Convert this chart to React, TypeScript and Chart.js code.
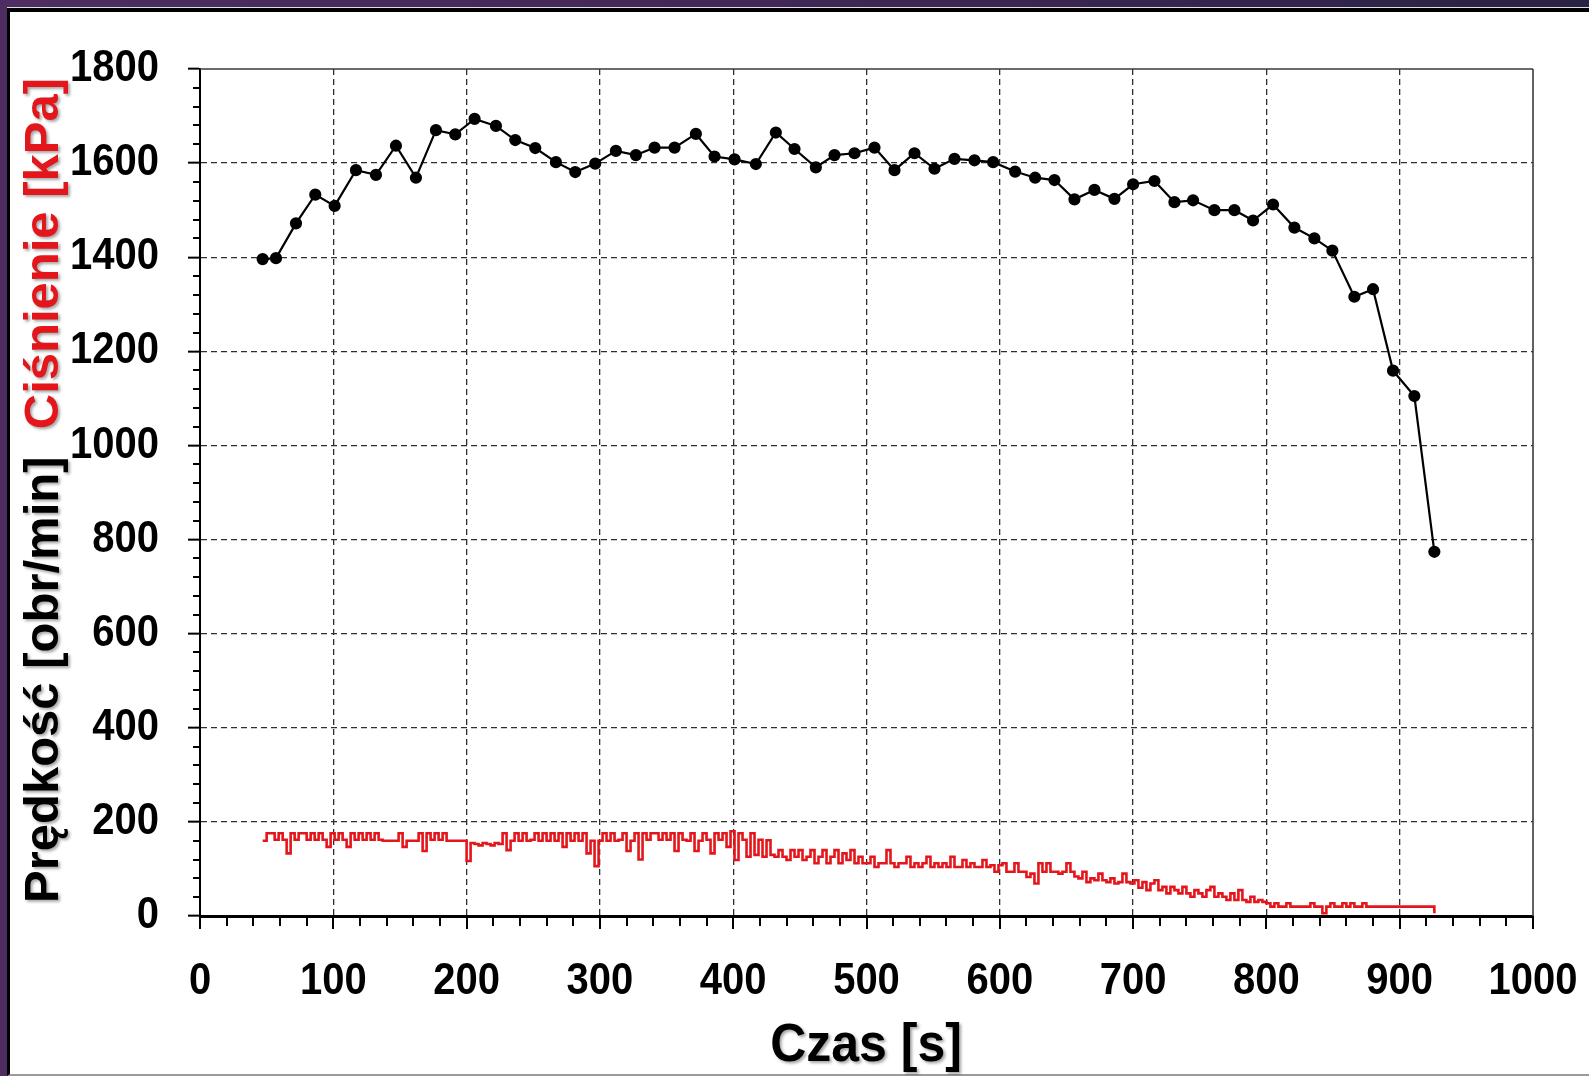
import React, { useEffect, useRef } from 'react';
import { Chart, registerables } from 'chart.js';

Chart.register(...registerables);

// Black series: rotational speed [obr/min]
const speedTime = [47, 57, 72, 86.5, 101, 117, 132, 147, 162, 177, 191.5, 206, 222, 236.5, 251.5, 267, 281.5, 296.5, 312, 327, 341, 356, 372, 386, 401, 417, 432, 446, 462, 476, 491, 506, 521, 536, 551, 566, 581, 595, 611.5, 626.5, 641, 656, 671, 686, 700, 716, 731, 745, 761, 776, 790, 805, 821, 836, 849.5, 866, 880, 895, 911, 926];
const speedValues = [1396, 1398, 1472, 1533, 1509, 1585, 1575, 1637, 1569, 1670, 1661, 1694, 1679, 1649, 1632, 1602, 1581, 1599, 1626, 1617, 1633, 1633, 1662, 1614, 1608, 1598, 1665, 1630, 1591, 1617, 1621, 1633, 1585, 1621, 1588, 1609, 1606, 1602, 1582, 1569, 1564, 1523, 1543, 1524, 1555, 1562, 1517, 1521, 1500, 1500, 1478, 1512, 1463, 1440, 1414, 1316, 1332, 1159, 1105, 774];

// Red series: pressure [kPa], sampled every 3 s from t = 47 s
const pressureStart = 47;
const pressureStep = 3;
const pressureValues = [
  160, 176, 176, 162, 176, 162, 133, 176, 162, 176,
  176, 162, 176, 162, 176, 162, 147, 176, 162, 176,
  162, 147, 176, 162, 176, 162, 176, 162, 176, 162,
  160, 160, 160, 160, 176, 147, 160, 160, 160, 176,
  138, 176, 162, 176, 162, 176, 160, 160, 160, 160,
  160, 117, 155, 153, 150, 155, 153, 150, 155, 153,
  176, 140, 160, 176, 160, 176, 160, 162, 176, 160,
  176, 160, 176, 160, 176, 147, 176, 160, 176, 160,
  176, 133, 160, 106, 160, 176, 160, 176, 160, 162,
  176, 138, 160, 176, 120, 176, 162, 176, 176, 162,
  176, 162, 176, 138, 176, 162, 160, 176, 138, 160,
  176, 162, 133, 176, 162, 176, 147, 180, 119, 176,
  162, 126, 176, 130, 162, 126, 161, 130, 126, 140,
  126, 119, 140, 126, 140, 119, 126, 140, 112, 126,
  140, 112, 126, 140, 112, 133, 119, 140, 112, 126,
  112, 112, 126, 104, 112, 112, 140, 112, 104, 112,
  112, 126, 104, 112, 104, 112, 126, 104, 112, 104,
  112, 104, 126, 104, 104, 119, 104, 112, 104, 104,
  119, 104, 108, 94, 108, 112, 94, 94, 112, 94,
  94, 83, 90, 69, 112, 94, 112, 94, 94, 90,
  94, 112, 94, 84, 80, 94, 72, 80, 76, 90,
  76, 72, 80, 69, 72, 90, 72, 69, 76, 60,
  72, 55, 69, 76, 55, 62, 48, 62, 55, 48,
  62, 48, 41, 55, 48, 41, 55, 62, 41, 48,
  41, 34, 48, 34, 55, 34, 30, 41, 30, 34,
  30, 27, 20, 27, 20, 20, 27, 20, 20, 20,
  20, 20, 27, 20, 20, 6, 20, 27, 20, 20,
  27, 20, 27, 20, 20, 27, 20, 20, 20, 20,
  20, 20, 20, 20, 20, 20, 20, 20, 20, 20,
  20, 20, 20, 6,
];

const xTitle = 'Czas [s]';
const yTitleBlack = 'Prędkość [obr/min]';
const yTitleRed = 'Ciśnienie [kPa]';

const FONT = "'Liberation Sans', Arial, sans-serif";
const LABEL_STRETCH = 1.1;

const framePlugin = {
  id: 'framePlugin',
  afterDraw(chart: any) {
    const { ctx, chartArea: a, scales } = chart;
    const xs = scales.x;
    const ys = scales.y;
    ctx.save();
    const line = (x1: number, y1: number, x2: number, y2: number) => {
      ctx.beginPath();
      ctx.moveTo(x1, y1);
      ctx.lineTo(x2, y2);
      ctx.stroke();
    };
    // x ticks (major 13 px, minor 10 px), y minor ticks
    ctx.strokeStyle = '#000';
    ctx.lineWidth = 2;
    xs.ticks.forEach((t: any) => {
      const px = Math.round(xs.getPixelForValue(t.value));
      const len = t.value % 100 === 0 ? 13 : 10;
      line(px, a.bottom, px, a.bottom + len);
    });
    ys.ticks.forEach((t: any) => {
      if (t.value % 200 !== 0) {
        const py = Math.round(ys.getPixelForValue(t.value));
        line(a.left - 7, py, a.left, py);
      }
    });
    // top and right frame
    ctx.strokeStyle = '#3a3a3a';
    ctx.lineWidth = 1.6;
    line(a.left, a.top, a.right, a.top);
    line(a.right, a.top, a.right, a.bottom);

    // tick labels (slightly tall, as in the original)
    ctx.fillStyle = '#000';
    ctx.font = `bold 40px ${FONT}`;
    ctx.textBaseline = 'middle';
    ctx.textAlign = 'center';
    xs.ticks.forEach((t: any) => {
      if (t.value % 100 === 0) {
        const px = xs.getPixelForValue(t.value);
        ctx.save();
        ctx.translate(px, a.bottom + 66);
        ctx.scale(1, LABEL_STRETCH);
        ctx.fillText(String(t.value), 0, 0);
        ctx.restore();
      }
    });
    ctx.textAlign = 'right';
    ys.ticks.forEach((t: any) => {
      if (t.value % 200 === 0) {
        const py = ys.getPixelForValue(t.value);
        ctx.save();
        ctx.translate(a.left - 41, py);
        ctx.scale(1, LABEL_STRETCH);
        ctx.fillText(String(t.value), 0, 0);
        ctx.restore();
      }
    });

    // titles
    ctx.shadowColor = 'rgba(0,0,0,0.35)';
    ctx.shadowBlur = 3;
    ctx.shadowOffsetX = 2;
    ctx.shadowOffsetY = 2;
    ctx.fillStyle = '#000';
    ctx.font = `bold 50px ${FONT}`;
    ctx.textAlign = 'center';
    ctx.textBaseline = 'alphabetic';
    ctx.save();
    ctx.translate(866, 1061);
    ctx.scale(1, 1.06);
    ctx.fillText(xTitle, 0, 0);
    ctx.restore();

    ctx.font = `bold 49px ${FONT}`;
    ctx.textAlign = 'left';
    ctx.translate(58, 903);
    ctx.rotate(-Math.PI / 2);
    ctx.fillStyle = '#000';
    ctx.fillText(yTitleBlack, 0, 0);
    const w1 = ctx.measureText(yTitleBlack + '  ').width;
    ctx.fillStyle = '#e3161b';
    ctx.fillText(yTitleRed, w1, 0);
    ctx.restore();
  },
};

export default function App() {
  const canvasRef = useRef<HTMLCanvasElement | null>(null);

  useEffect(() => {
    document.body.style.margin = '0';
    const canvas = canvasRef.current;
    if (!canvas) return;

    const speedData = speedTime.map((t, i) => ({ x: t, y: speedValues[i] }));
    const pressureData = pressureValues.map((v, i) => ({ x: pressureStart + i * pressureStep, y: v }));

    const tickFont = { family: FONT, size: 40, weight: 'bold' as const };
    const hidden = 'rgba(0,0,0,0)';

    const chart = new Chart(canvas, {
      type: 'line',
      data: {
        datasets: [
          {
            label: 'Ciśnienie',
            data: pressureData,
            borderColor: '#e3161b',
            borderWidth: 2.6,
            pointRadius: 0,
            stepped: true,
            fill: false,
          },
          {
            label: 'Prędkość',
            data: speedData,
            borderColor: '#000',
            backgroundColor: '#000',
            borderWidth: 2.2,
            pointRadius: 5,
            pointBackgroundColor: '#000',
            pointBorderColor: '#000',
            tension: 0,
            fill: false,
          },
        ],
      },
      options: {
        responsive: false,
        animation: false,
        devicePixelRatio: 1,
        layout: { padding: { left: 0, top: 69, right: 56, bottom: 0 } },
        plugins: {
          legend: { display: false },
          tooltip: { enabled: false },
          title: { display: false },
        },
        scales: {
          x: {
            type: 'linear',
            min: 0,
            max: 1000,
            afterFit: (s: any) => {
              s.height = 160;
            },
            ticks: {
              stepSize: 20,
              autoSkip: false,
              maxRotation: 0,
              minRotation: 0,
              color: hidden,
              font: tickFont,
              padding: 8,
              callback: (v: any) => (Number(v) % 100 === 0 ? String(v) : ''),
            },
            grid: {
              color: (c: any) => {
                const v = c.tick ? c.tick.value : 0;
                return v % 100 === 0 && v > 0 && v < 1000 ? '#2e2e2e' : hidden;
              },
              lineWidth: 1.3,
              tickLength: 33,
              tickWidth: 2,
              tickColor: hidden,
            },
            border: { display: true, color: '#000', width: 3, dash: [6, 4] },
          },
          y: {
            type: 'linear',
            min: 0,
            max: 1800,
            afterFit: (s: any) => {
              s.width = 200;
            },
            ticks: {
              stepSize: 40,
              autoSkip: false,
              color: hidden,
              font: tickFont,
              padding: 29,
              callback: (v: any) => (Number(v) % 200 === 0 ? String(v) : ''),
            },
            grid: {
              color: (c: any) => {
                const v = c.tick ? c.tick.value : 0;
                return v % 200 === 0 && v > 0 && v < 1800 ? '#2e2e2e' : hidden;
              },
              lineWidth: 1.3,
              tickLength: 12,
              tickWidth: 2,
              tickColor: (c: any) => (c.tick && c.tick.value % 200 === 0 ? '#000' : hidden),
            },
            border: { display: true, color: '#000', width: 2, dash: [6, 4] },
          },
        },
      },
      plugins: [framePlugin],
    });

    return () => {
      chart.destroy();
    };
  }, []);

  return (
    <div
      style={{
        position: 'fixed',
        left: 0,
        top: 0,
        width: 1589,
        height: 1076,
        overflow: 'hidden',
        background: 'linear-gradient(90deg, #4d2d62 0%, #3f2754 55%, #2a2244 100%)',
      }}
    >
      <div
        style={{
          position: 'absolute',
          left: 7,
          top: 8,
          right: 0,
          bottom: 0,
          background: '#fff',
          borderTop: '4px solid #000',
          borderLeft: '3px solid #000',
          borderBottom: '2px solid #9a9a9a',
          boxShadow: '0 -1px 0 #e0dce6',
          boxSizing: 'border-box',
        }}
      />
      <canvas
        ref={canvasRef}
        width={1589}
        height={1076}
        style={{ position: 'absolute', left: 0, top: 0, width: 1589, height: 1076 }}
      />
    </div>
  );
}
